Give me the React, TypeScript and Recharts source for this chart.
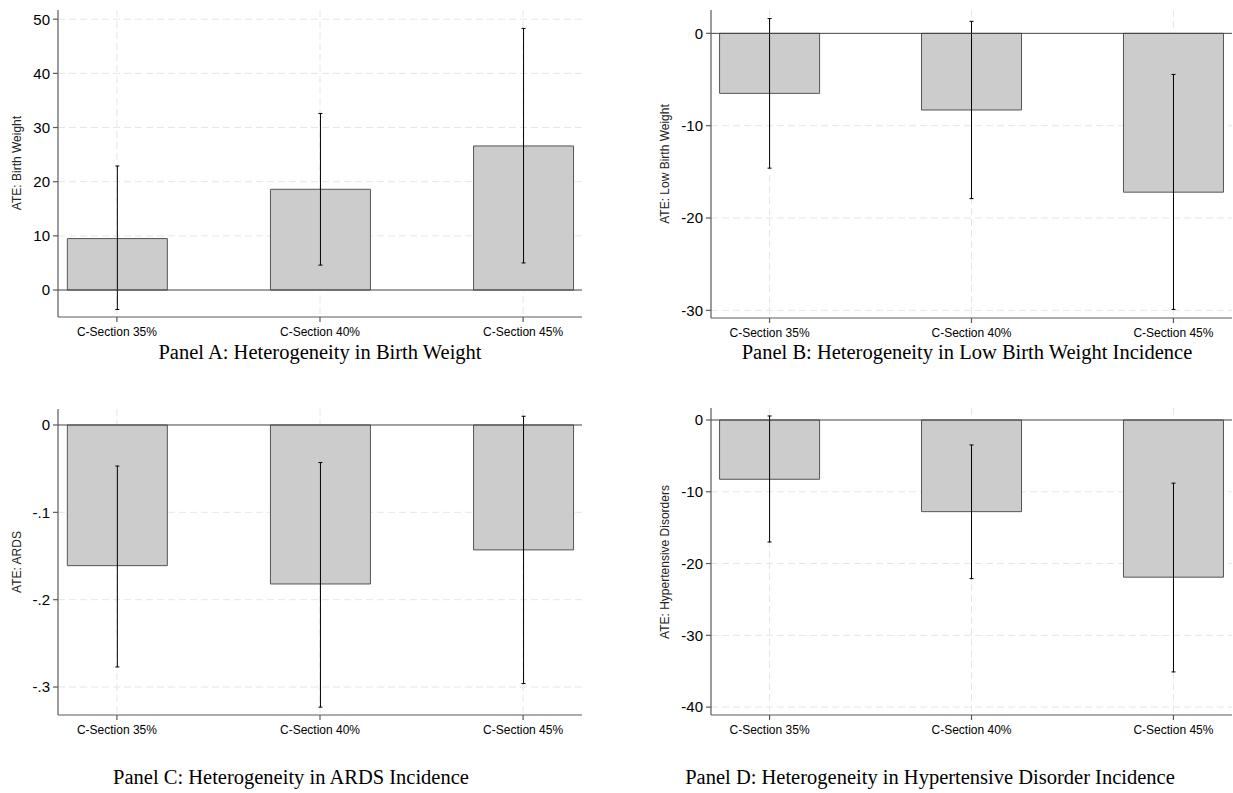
import { Bar, BarChart, CartesianGrid, ErrorBar, ReferenceLine, XAxis, YAxis } from "recharts";

// Average treatment effects by C-section threshold, four outcomes.
// Each panel: point estimate bars with 95% CI whiskers.

const categories = ["C-Section 35%", "C-Section 40%", "C-Section 45%"];
const positions = [1, 2, 3];

const birthWeight = [9.5, 18.6, 26.6];
const birthWeightLo = [-3.6, 4.6, 5.0];
const birthWeightHi = [22.9, 32.6, 48.3];

const lowBirthWeight = [-6.5, -8.3, -17.2];
const lowBirthWeightLo = [-14.6, -17.9, -29.9];
const lowBirthWeightHi = [1.6, 1.3, -4.45];

const ards = [-0.161, -0.182, -0.143];
const ardsLo = [-0.277, -0.323, -0.296];
const ardsHi = [-0.047, -0.043, 0.01];

const hypertensive = [-8.26, -12.77, -21.9];
const hypertensiveLo = [-17.0, -22.1, -35.1];
const hypertensiveHi = [0.56, -3.48, -8.8];

const ticksA = [0, 10, 20, 30, 40, 50];
const ticksB = [0, -10, -20, -30];
const ticksC = [0, -0.1, -0.2, -0.3];
const ticksD = [0, -10, -20, -30, -40];

const SANS = "'Liberation Sans', Arial, sans-serif";
const SERIF = "'Liberation Serif', 'Times New Roman', serif";
const AXIS = "#5a5a5a";

// Stata-style labels: -.1 rather than -0.1
const stataFmt = (v: number) => {
  if (v === 0) return "0";
  const abs = String(Math.abs(v)).replace(/^0\./, ".");
  return (v < 0 ? "-" : "") + abs;
};

function buildRows(values: number[], lo: number[], hi: number[]) {
  return categories.map((c, i) => ({
    name: c,
    pos: positions[i],
    value: values[i],
    err: [values[i] - lo[i], hi[i] - values[i]],
  }));
}

type PanelProps = {
  left: number;
  top: number;
  width: number;
  height: number;
  margin: { top: number; right: number; bottom: number; left: number };
  yWidth: number;
  domain: [number, number];
  ticks: number[];
  values: number[];
  lo: number[];
  hi: number[];
  yTitle: string;
  titleX: number;
  titleY: number;
};

function Panel(p: PanelProps) {
  const data = buildRows(p.values, p.lo, p.hi);
  return (
    <div style={{ position: "absolute", left: p.left, top: p.top }}>
      <BarChart width={p.width} height={p.height} data={data} margin={p.margin}>
        <CartesianGrid
          stroke="#e6e6e6"
          strokeDasharray="7 4"
          strokeWidth={1}
          horizontalValues={p.ticks.filter((t) => t !== 0)}
          verticalValues={positions}
        />
        <XAxis
          dataKey="pos"
          type="number"
          domain={[0.71, 3.29]}
          ticks={positions}
          allowDataOverflow
          tickFormatter={(v: number) => categories[positions.indexOf(v)] ?? ""}
          tick={{ fontSize: 12, fill: "#000", fontFamily: SANS }}
          stroke={AXIS}
          strokeWidth={1.2}
          tickSize={5}
          tickMargin={5}
          height={25}
          interval={0}
        />
        <YAxis
          type="number"
          domain={p.domain}
          ticks={p.ticks}
          allowDataOverflow
          tickFormatter={stataFmt}
          tick={{ fontSize: 15, fill: "#000", fontFamily: SANS }}
          stroke={AXIS}
          strokeWidth={1.2}
          tickSize={5}
          tickMargin={3}
          width={p.yWidth}
          interval={0}
          label={{
            content: () => (
              <text
                x={p.titleX}
                y={p.titleY}
                transform={`rotate(-90, ${p.titleX}, ${p.titleY})`}
                textAnchor="middle"
                dominantBaseline="central"
                fontSize={12}
                fontFamily={SANS}
                fill="#222"
              >
                {p.yTitle}
              </text>
            ),
          }}
        />
        <Bar
          dataKey="value"
          barSize={100}
          fill="#cccccc"
          stroke="#555"
          strokeWidth={1}
          isAnimationActive={false}
        >
          <ErrorBar
            dataKey="err"
            width={2}
            stroke="#000"
            strokeWidth={1}
            direction="y"
            isAnimationActive={false}
          />
        </Bar>
        <ReferenceLine y={0} stroke="#444" strokeWidth={1} />
      </BarChart>
    </div>
  );
}

const captionStyle = (cx: number, cy: number): React.CSSProperties => ({
  position: "absolute",
  left: cx - 300,
  top: cy - 13,
  width: 600,
  textAlign: "center",
  fontFamily: SERIF,
  fontSize: 20.5,
  lineHeight: "26px",
  color: "#000",
});

export default function App() {
  return (
    <div
      style={{
        position: "absolute",
        left: 0,
        top: 0,
        width: 1233,
        height: 793,
        background: "#fff",
        overflow: "hidden",
      }}
    >
      <Panel
        left={0}
        top={0}
        width={600}
        height={345}
        margin={{ top: 10, right: 18, bottom: 3, left: 10 }}
        yWidth={48}
        domain={[-4.98, 51.7]}
        ticks={ticksA}
        values={birthWeight}
        lo={birthWeightLo}
        hi={birthWeightHi}
        yTitle="ATE: Birth Weight"
        titleX={17}
        titleY={163}
      />
      <Panel
        left={650}
        top={0}
        width={583}
        height={345}
        margin={{ top: 10, right: 1, bottom: 2, left: 11 }}
        yWidth={50}
        domain={[-30.83, 2.53]}
        ticks={ticksB}
        values={lowBirthWeight}
        lo={lowBirthWeightLo}
        hi={lowBirthWeightHi}
        yTitle="ATE: Low Birth Weight"
        titleX={15}
        titleY={164}
      />
      <Panel
        left={0}
        top={400}
        width={600}
        height={345}
        margin={{ top: 9, right: 18, bottom: 5, left: 10 }}
        yWidth={48}
        domain={[-0.332, 0.0183]}
        ticks={ticksC}
        values={ards}
        lo={ardsLo}
        hi={ardsHi}
        yTitle="ATE: ARDS"
        titleX={17}
        titleY={162}
      />
      <Panel
        left={650}
        top={400}
        width={583}
        height={345}
        margin={{ top: 8, right: 1, bottom: 5, left: 11 }}
        yWidth={50}
        domain={[-41.1, 1.67]}
        ticks={ticksD}
        values={hypertensive}
        lo={hypertensiveLo}
        hi={hypertensiveHi}
        yTitle="ATE: Hypertensive Disorders"
        titleX={15}
        titleY={162}
      />
      <div style={captionStyle(320, 352)}>Panel A: Heterogeneity in Birth Weight</div>
      <div style={captionStyle(967, 352)}>Panel B: Heterogeneity in Low Birth Weight Incidence</div>
      <div style={captionStyle(291, 777)}>Panel C: Heterogeneity in ARDS Incidence</div>
      <div style={captionStyle(930, 777)}>Panel D: Heterogeneity in Hypertensive Disorder Incidence</div>
    </div>
  );
}
